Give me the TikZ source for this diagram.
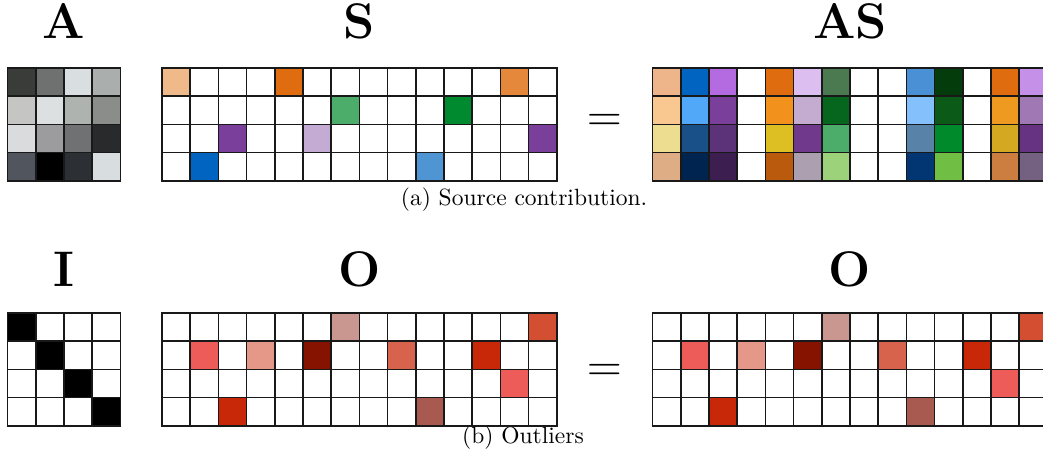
\documentclass[tikz,border=0pt]{standalone}
\usepackage{tikz}
\usetikzlibrary{positioning,calc}
\font\captfont="[lmroman10-regular]:mapping=tex-text" at 23.5pt

\begin{document}
\begin{tikzpicture}[x=1pt,y=1pt,
mbox/.style={minimum width=#1*28.2pt,minimum height=4*28.2pt,inner sep=0pt,outer sep=0pt,anchor=north west},
mlabel/.style={font=\fontsize{50}{52}\selectfont\bfseries,inner sep=0pt,anchor=base},
eqsign/.style={font=\fontsize{48}{50}\selectfont,inner sep=0pt,anchor=base},
capt/.style={font=\captfont,inner sep=0pt},
gridline/.style={draw=black!90,line width=1.6pt,line cap=rect}]
\useasboundingbox (0,0) rectangle (1043,456);
\clip (0,0) rectangle (1043,456);
% (a) source contribution
\node[mbox=4] (matA) at (7.5,388) {};
\node[mbox=14] (matS) at (162,388) {};
\node[mbox=14] (matAS) at (652.5,388) {};
\node[above=29pt of matA,mlabel] (labA) {A};
\node[above=29pt of matS,mlabel] (labS) {S};
\node[above=29pt of matAS,mlabel] (labAS) {AS};
\node[eqsign] (eqa) at ($(matS.east)!0.5!(matAS.west)+(0,-7.5)$) {=};
\node[capt] (capa) at (524,256) {(a) Source contribution.};
% (b) outliers
\node[mbox=4] (matI) at (7.5,143) {};
\node[mbox=14] (matO) at (162,143) {};
\node[mbox=14] (matOr) at (652.5,143) {};
\node[above=27pt of matI,mlabel] (labI) {I};
\node[above=27pt of matO,mlabel] (labO) {O};
\node[above=27pt of matOr,mlabel] (labOr) {O};
\node[eqsign] (eqb) at ($(matO.east)!0.5!(matOr.west)+(0,-12)$) {=};
\node[capt] (capb) at (523,18) {(b) Outliers};
% cell colours
\begin{scope}[shift={(matA.north west)},x=28.2pt,y=28.2pt]
\foreach \c/\r/\h in {0/0/3A3C3A,1/0/6E716F,2/0/D9DEE0,3/0/AAAFAD,
  0/1/C5C6C4,1/1/DCE0E0,2/1/AEB3AF,3/1/8A8D8A,
  0/2/DADBDC,1/2/9C9C9E,2/2/707173,3/2/282A2B,
  0/3/51565E,1/3/000000,2/3/2C2F33,3/3/D8DEE0}
  {\definecolor{cellc}{HTML}{\h}\fill[cellc] (\c,-\r) rectangle ++(1,-1);}
\end{scope}
\begin{scope}[shift={(matS.north west)},x=28.2pt,y=28.2pt]
\foreach \c/\r/\h in {0/0/F0B98A,4/0/E06C10,12/0/E5883C,6/1/4CAD6A,10/1/008A30,
  2/2/7A3F9A,5/2/C4ABD4,13/2/7A3F9A,1/3/0064C0,9/3/4F95D4}
  {\definecolor{cellc}{HTML}{\h}\fill[cellc] (\c,-\r) rectangle ++(1,-1);}
\end{scope}
\begin{scope}[shift={(matAS.north west)},x=28.2pt,y=28.2pt]
\foreach \c/\r/\h in {0/0/EEB48A,0/1/F8C890,0/2/EDDD90,0/3/DFAD85,
  1/0/0064C0,1/1/52A8F8,1/2/1A5088,1/3/002450,
  2/0/B46AE0,2/1/7A3F9A,2/2/5C3378,2/3/3C1E50,
  4/0/E06C10,4/1/F2911C,4/2/DDBF24,4/3/BA5A0C,
  5/0/DCBEF0,5/1/C4ABD0,5/2/70398C,5/3/AB9FB0,
  6/0/4C7A50,6/1/06661E,6/2/4CAD6A,6/3/9CD27A,
  9/0/4A90D4,9/1/84C0FC,9/2/5882A8,9/3/023672,
  10/0/053C0C,10/1/0C5A18,10/2/008A2C,10/3/70BE44,
  12/0/E06C10,12/1/EE9A20,12/2/D4A820,12/3/CC7E40,
  13/0/C490E8,13/1/A078B4,13/2/653382,13/3/746080}
  {\definecolor{cellc}{HTML}{\h}\fill[cellc] (\c,-\r) rectangle ++(1,-1);}
\end{scope}
\begin{scope}[shift={(matI.north west)},x=28.2pt,y=28.2pt]
\foreach \c in {0,...,3}
  \fill[black] (\c,-\c) rectangle ++(1,-1);
\end{scope}
\foreach \m in {matO,matOr}{
\begin{scope}[shift={(\m.north west)},x=28.2pt,y=28.2pt]
\foreach \c/\r/\h in {6/0/C99690,13/0/D44E32,1/1/EE5C5A,3/1/E69888,5/1/861200,
  8/1/D8634C,11/1/C82808,12/2/EE5C5A,2/3/C82808,9/3/A95A50}
  {\definecolor{cellc}{HTML}{\h}\fill[cellc] (\c,-\r) rectangle ++(1,-1);}
\end{scope}}
% grid lines
\foreach \m/\n in {matA/4,matS/14,matAS/14,matI/4,matO/14,matOr/14}{
\begin{scope}[shift={(\m.north west)},x=28.2pt,y=28.2pt]
\foreach \i in {0,...,\n} \draw[gridline] (\i,0) -- (\i,-4);
\foreach \j in {0,...,4} \draw[gridline] (0,-\j) -- (\n,-\j);
\end{scope}}
\end{tikzpicture}
\end{document}
